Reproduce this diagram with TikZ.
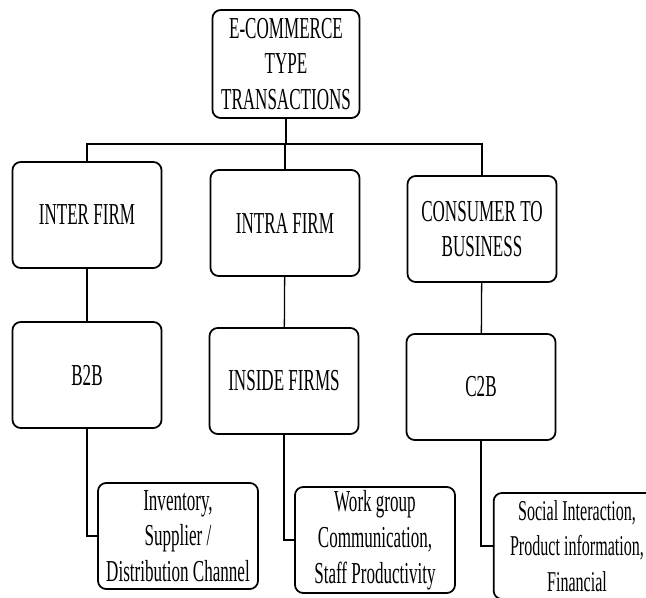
\documentclass[tikz,border=0pt]{standalone}
\usepackage{fontspec}
\setmainfont{Liberation Serif}[FakeStretch=0.56]
\usetikzlibrary{positioning}
\usetikzlibrary{calc}

\begin{document}
\begin{tikzpicture}[x=0.03cm, y=-0.03cm,
  box/.style={draw, line width=1.5pt, rounded corners=7pt, align=center, inner sep=0pt,
    minimum width=4.47cm, minimum height=3.18cm, font=\fontsize{26}{30.5}\selectfont},
  leaf/.style={box, minimum width=4.8cm},
  link/.style={line width=1.1pt}]
\useasboundingbox (0,0) rectangle (646,598);

% root
\node[box, minimum width=4.41cm, minimum height=3.24cm] (root) at (286,64) {E-COMMERCE\\TYPE\\TRANSACTIONS};
\coordinate (bus) at (286,144);

% second row
\node[box] (inter) at (87,215) {INTER FIRM};
\node[box] (intra) at (285,223) {INTRA FIRM};
\node[box] (cons) at (482,229) {CONSUMER TO\\BUSINESS};

% third row
\node[box] (btob) at (87,375) {B2B};
\node[box] (inside) at (284,381) {INSIDE FIRMS};
\node[box] (ctob) at (481,387) {C2B};

% leaves
\node[leaf] (inv) at (178,536) {Inventory,\\Supplier /\\Distribution Channel};
\node[leaf] (work) at (375,540) {Work group\\Communication,\\Staff Productivity};
\node[leaf, minimum width=5cm, font=\fontsize{24.5}{30.5}\selectfont] (soc) at (577,546) {Social Interaction,\\Product information,\\Financial};

% connectors
\draw[link] (root.south) -- (bus);
\draw[link] (inter.north) |- (cons.north |- bus) -- (cons.north);
\draw[link] (intra.north) -- (intra.north |- bus);
\draw[link] (inter) -- (btob);
\draw[link] (intra) -- (inside);
\draw[link] (cons) -- (ctob);
\draw[link] (btob.south) |- (inv.west);
\draw[link] (inside.south) |- (work.west);
\draw[link] (ctob.south) |- (soc.west);
\end{tikzpicture}
\end{document}
